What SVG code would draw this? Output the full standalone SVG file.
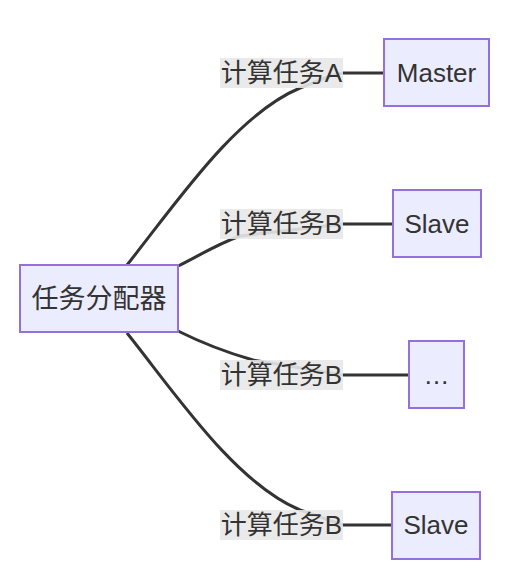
<svg xmlns="http://www.w3.org/2000/svg" width="520" height="584" viewBox="0 0 520 584">
<style>
.node rect{fill:#ECECFF;stroke:#9370DB;stroke-width:2}
text{font-family:"Liberation Sans","Noto Sans CJK SC",sans-serif;font-size:26px;fill:#333;text-anchor:middle;dominant-baseline:central}
.edge{fill:none;stroke:#333;stroke-width:3}
.lbl rect{fill:#e8e8e8;opacity:0.9}
</style>
<rect width="520" height="584" fill="#fff"/>
<g id="connectors">
<path class="edge" d="M127,265 C175,205 235,115 300,88 L330,76 L343,73 L383,73"/>
<path class="edge" d="M178,266 C195,258 215,245 240,236 L343,224 L393,224"/>
<path class="edge" d="M178,331 C200,342 225,352 253,360 L343,375 L409,375"/>
<path class="edge" d="M127,333 C175,393 235,483 300,510 L343,525 L392,525"/>
</g>
<g id="labels">
<g class="lbl"><rect x="220" y="58" width="123" height="30"/><text x="281.5" y="73">计算任务A</text></g>
<g class="lbl"><rect x="220" y="209" width="123" height="30"/><text x="281.5" y="224">计算任务B</text></g>
<g class="lbl"><rect x="220" y="360" width="123" height="30"/><text x="281.5" y="375">计算任务B</text></g>
<g class="lbl"><rect x="220" y="510" width="123" height="30"/><text x="281.5" y="525">计算任务B</text></g>
</g>
<g id="dispatcher" class="node"><rect x="20" y="265" width="158" height="67"/><text x="99" y="298.5" style="font-size:27px">任务分配器</text></g>
<g id="master" class="node"><rect x="384" y="39" width="105" height="67"/><text x="436.5" y="73">Master</text></g>
<g id="slave1" class="node"><rect x="393" y="190" width="88" height="67"/><text x="437" y="224">Slave</text></g>
<g id="etc" class="node"><rect x="409" y="341" width="55" height="67"/><text x="436.5" y="375">…</text></g>
<g id="slave2" class="node"><rect x="392" y="492" width="88" height="67"/><text x="436" y="525">Slave</text></g>
</svg>
